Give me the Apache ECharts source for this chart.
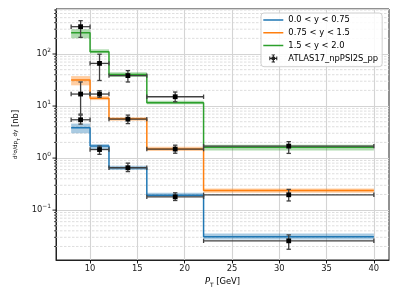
<!DOCTYPE html>
<html>
<head>
<meta charset="utf-8">
<script src="https://cdn.jsdelivr.net/npm/echarts@6/dist/echarts.min.js"></script>
<style>html,body{margin:0;padding:0;background:#fff}#c{width:399px;height:299px}</style>
</head>
<body>
<div id="c"></div>
<script>
// ---- data ----
const binEdges = [8, 10, 12, 16, 22, 40];
const blueVals = [3.83, 1.70, 0.652, 0.194, 0.0307];
const blueLo   = [3.0, 1.46, 0.59, 0.18, 0.0274];
const blueHi   = [4.6, 1.86, 0.71, 0.215, 0.0355];
const orangeVals = [31.6, 14.1, 5.7, 1.49, 0.239];
const orangeLo   = [25.0, 13.0, 5.2, 1.37, 0.215];
const orangeHi   = [37.7, 15.5, 6.1, 1.66, 0.26];
const greenVals = [257, 111, 40.6, 11.6, 1.61];
const greenLo   = [201, 103, 36, 10.8, 1.40];
const greenHi   = [299, 123, 44.5, 12.7, 1.80];

const dataX = [9, 11, 14, 19, 31];
const dataBlue = [5.45, 1.46, 0.652, 0.18, 0.0257];
const dataBlueLo = [4.5, 1.18, 0.55, 0.153, 0.0177];
const dataBlueHi = [6.7, 1.70, 0.80, 0.215, 0.0334];
const dataOrange = [17.0, 17.0, 5.6, 1.49, 0.197];
const dataOrangeLo = [7.0, 14.7, 4.6, 1.24, 0.15];
const dataOrangeHi = [29, 19.7, 6.7, 1.77, 0.25];
const dataGreen = [335, 66, 38.5, 15.1, 1.70];
const dataGreenLo = [209, 31, 29, 12.1, 1.23];
const dataGreenHi = [437, 99, 48, 18.6, 2.07];

const seriesNames = ['0.0 < y < 0.75', '0.75 < y < 1.5', '1.5 < y < 2.0'];
const dataName = 'ATLAS17_npPSI2S_pp';
const xTicks = [10, 15, 20, 25, 30, 35, 40];
const yMajorTicks = [0.1, 1, 10, 100];
const yMinorTicks = [0.02,0.03,0.04,0.05,0.06,0.07,0.08,0.09,
  0.2,0.3,0.4,0.5,0.6,0.7,0.8,0.9, 2,3,4,5,6,7,8,9,
  20,30,40,50,60,70,80,90, 200,300,400,500,600,700];
const X_MIN = 6.4, X_MAX = 41.6, Y_MIN = 0.011, Y_MAX = 733;

const colors = ['#1f77b4', '#ff7f0e', '#2ca02c'];
const FONT = 'DejaVu Sans';
const FS = 8.4;

function stepData(vals) {
  return binEdges.map((e, i) => [e, vals[Math.min(i, vals.length - 1)]]);
}
function bandData(lo, hi) {
  return lo.map((l, i) => [binEdges[i], binEdges[i + 1], l, hi[i]]);
}
function pointData(ys, lo, hi) {
  return ys.map((y, i) => [dataX[i], y, binEdges[i], binEdges[i + 1], lo[i], hi[i]]);
}

const bandSets = [[blueLo, blueHi], [orangeLo, orangeHi], [greenLo, greenHi]];
const lineSets = [blueVals, orangeVals, greenVals];
const points = [].concat(
  pointData(dataBlue, dataBlueLo, dataBlueHi),
  pointData(dataOrange, dataOrangeLo, dataOrangeHi),
  pointData(dataGreen, dataGreenLo, dataGreenHi)
);

const series = [];
// minor dashed grid + y ticks
series.push({
  type: 'custom', silent: true, z: 1, clip: false,
  data: yMinorTicks.map(v => [X_MIN, v, 0]).concat(yMajorTicks.map(v => [X_MIN, v, 1])),
  encode: { x: 0, y: 1 },
  renderItem: function (params, api) {
    const v = api.value(1), major = api.value(2);
    const p0 = api.coord([X_MIN, v]);
    const p1 = api.coord([X_MAX, v]);
    const children = [{
      type: 'line',
      shape: { x1: p0[0] - (major ? 3.5 : 2), y1: p0[1], x2: p0[0], y2: p0[1] },
      style: { stroke: '#000', lineWidth: major ? 0.9 : 0.7 }
    }];
    if (!major) {
      children.push({
        type: 'line',
        shape: { x1: p0[0], y1: p0[1], x2: p1[0], y2: p1[1] },
        style: { stroke: '#d6d6d6', lineWidth: 0.8, lineDash: [2.5, 1.5] }
      });
    }
    return { type: 'group', children: children };
  }
});
// bands
bandSets.forEach((b, k) => {
  series.push({
    type: 'custom', silent: true, z: 2,
    data: bandData(b[0], b[1]),
    encode: { x: [0, 1], y: [2, 3] },
    renderItem: function (params, api) {
      const p0 = api.coord([api.value(0), api.value(3)]);
      const p1 = api.coord([api.value(1), api.value(2)]);
      return {
        type: 'rect',
        shape: { x: p0[0], y: p0[1], width: p1[0] - p0[0], height: p1[1] - p0[1] },
        style: { fill: colors[k], opacity: 0.38 }
      };
    }
  });
});
// step lines
lineSets.forEach((vals, k) => {
  series.push({
    name: seriesNames[k], type: 'line', step: 'end', z: 3,
    symbol: 'none', showSymbol: false,
    data: stepData(vals),
    itemStyle: { color: colors[k] },
    lineStyle: { color: colors[k], width: 1.5 }
  });
});
// data points with error bars
series.push({
  name: dataName, type: 'custom', z: 4,
  itemStyle: { color: '#222' },
  data: points,
  encode: { x: [0, 2, 3], y: [1, 4, 5] },
  renderItem: function (params, api) {
    const x = api.value(0), y = api.value(1);
    const c = api.coord([x, y]);
    const xl = api.coord([api.value(2), y]);
    const xh = api.coord([api.value(3), y]);
    const yl = api.coord([x, api.value(4)]);
    const yh = api.coord([x, api.value(5)]);
    const st = { stroke: '#404040', lineWidth: 1.3 };
    const cap = 2.2, m = 2.4;
    return {
      type: 'group',
      children: [
        { type: 'line', shape: { x1: xl[0], y1: c[1], x2: xh[0], y2: c[1] }, style: st },
        { type: 'line', shape: { x1: xl[0], y1: c[1] - cap, x2: xl[0], y2: c[1] + cap }, style: st },
        { type: 'line', shape: { x1: xh[0], y1: c[1] - cap, x2: xh[0], y2: c[1] + cap }, style: st },
        { type: 'line', shape: { x1: c[0], y1: yl[1], x2: c[0], y2: yh[1] }, style: st },
        { type: 'line', shape: { x1: c[0] - cap, y1: yl[1], x2: c[0] + cap, y2: yl[1] }, style: st },
        { type: 'line', shape: { x1: c[0] - cap, y1: yh[1], x2: c[0] + cap, y2: yh[1] }, style: st },
        { type: 'rect', shape: { x: c[0] - m, y: c[1] - m, width: 2 * m, height: 2 * m }, style: { fill: '#000' } }
      ]
    };
  }
});

const bboxPts = 'M0,0h0.01v0.01h-0.01Z M19.99,9.99h0.01v0.01h-0.01Z ';
const lineIcon = 'path://' + bboxPts + 'M0,4.25H20V5.75H0Z';
const errIcon = 'path://' + bboxPts +
  'M6,4.4H14V5.6H6Z M6,3.2H7V6.8H6Z M13,3.2H14V6.8H13Z ' +
  'M9.4,1H10.6V9H9.4Z M8.3,1H11.7V1.9H8.3Z M8.3,8.1H11.7V9H8.3Z ' +
  'M8.3,3.3H11.7V6.7H8.3Z';

const option = {
  animation: false,
  backgroundColor: '#fff',
  grid: { left: 56, right: 10, top: 9, bottom: 39, show: true, borderColor: '#222', borderWidth: 1, backgroundColor: 'transparent' },
  legend: {
    orient: 'vertical', left: 261, top: 13,
    padding: [2, 4, 3.3, 2.3],
    itemWidth: 20, itemHeight: 10, itemGap: 2.8,
    backgroundColor: 'rgba(255,255,255,0.85)', borderColor: '#d0d0d0', borderWidth: 1, borderRadius: 3,
    textStyle: { fontFamily: FONT, fontSize: FS, color: '#000', lineHeight: 10 },
    data: seriesNames.map((n, k) => ({ name: n, icon: lineIcon, itemStyle: { color: colors[k] } }))
      .concat([{ name: dataName, icon: errIcon }])
  },
  xAxis: {
    type: 'value', min: X_MIN, max: X_MAX, minInterval: 5, maxInterval: 5, splitNumber: 7,
    name: '{i|P}{s|T} [GeV]', nameLocation: 'middle', nameGap: 16,
    nameTextStyle: {
      fontFamily: FONT, fontSize: FS, color: '#000',
      rich: {
        i: { fontFamily: FONT, fontSize: FS, fontStyle: 'italic', lineHeight: 12, color: '#000' },
        s: { fontFamily: FONT, fontSize: 5.9, lineHeight: 6, verticalAlign: 'bottom', color: '#000' }
      }
    },
    axisLine: { show: true, lineStyle: { color: '#222', width: 1 } },
    axisTick: { show: true, length: 3.5, lineStyle: { color: '#000', width: 0.9 }, customValues: xTicks },
    axisLabel: { fontFamily: FONT, fontSize: FS, color: '#222', margin: 5, customValues: xTicks },
    splitLine: { show: true, lineStyle: { color: '#d4d4d4', width: 1.1 } }
  },
  yAxis: {
    type: 'log', logBase: 10, min: Y_MIN, max: Y_MAX,
    name: '{f|d²σ/dp}{fs|T}{f| dy} [nb]', nameLocation: 'middle', nameGap: 33, nameRotate: 90,
    nameTextStyle: {
      fontFamily: FONT, fontSize: FS, color: '#000',
      rich: {
        f: { fontFamily: FONT, fontSize: 5.6, color: '#000', lineHeight: 10 },
        fs: { fontFamily: FONT, fontSize: 4.2, color: '#000', lineHeight: 5, verticalAlign: 'bottom' }
      }
    },
    axisLine: { show: true, lineStyle: { color: '#222', width: 1 } },
    axisTick: { show: false },
    axisLabel: {
      showMinLabel: false, showMaxLabel: false, margin: 5,
      formatter: function (v) {
        const e = Math.log10(v), r = Math.round(e);
        if (Math.abs(e - r) > 1e-6) return '';
        return '{b|10}{s|' + (r < 0 ? '\u2212' + (-r) : r) + '}';
      },
      rich: {
        b: { fontFamily: FONT, fontSize: FS, lineHeight: 14, color: '#222' },
        s: { fontFamily: FONT, fontSize: 5.9, lineHeight: 6, verticalAlign: 'top', color: '#222' }
      }
    },
    splitLine: { show: true, lineStyle: { color: '#d4d4d4', width: 1.1 } }
  },
  series: series
};

const chart = echarts.init(document.getElementById('c'), null, { renderer: 'canvas' });
chart.setOption(option);
</script>
</body>
</html>
